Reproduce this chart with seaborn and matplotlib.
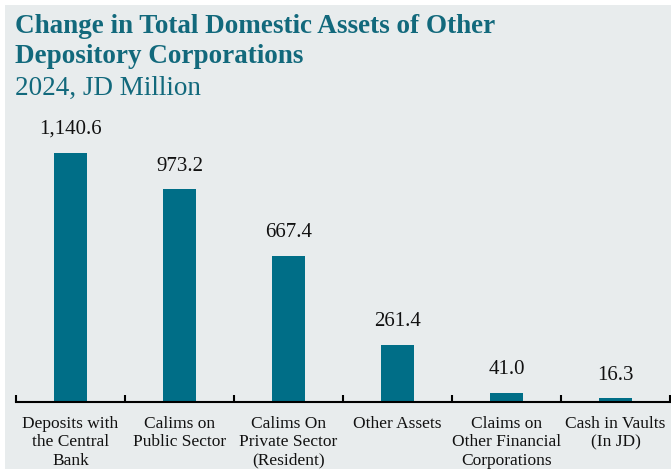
import matplotlib
matplotlib.use("Agg")
import matplotlib.pyplot as plt
import seaborn as sns
import pandas as pd
from matplotlib.patches import Rectangle

categories = [
    "Deposits with\nthe Central\nBank",
    "Calims on\nPublic Sector",
    "Calims On\nPrivate Sector\n(Resident)",
    "Other Assets",
    "Claims on\nOther Financial\nCorporations",
    "Cash in Vaults\n(In JD)",
]
values = [1140.6, 973.2, 667.4, 261.4, 41.0, 16.3]
value_labels = ["1,140.6", "973.2", "667.4", "261.4", "41.0", "16.3"]

title_line1 = "Change in Total Domestic Assets of Other"
title_line2 = "Depository Corporations"
subtitle = "2024, JD Million"

bg = "#E8ECED"
teal = "#006E87"
title_color = "#12697C"

sns.set_theme(style="white")
plt.rcParams["font.family"] = ["Liberation Serif", "DejaVu Serif"]

W, H = 671, 469
fig = plt.figure(figsize=(W / 100, H / 100), dpi=100, facecolor="white")
fig.patches.append(Rectangle((5 / W, 0), 1 - 5 / W, 1 - 5 / H,
                             transform=fig.transFigure, facecolor=bg,
                             edgecolor="none", zorder=-10))

left, right, bottom, top = 16, 670, 402, 110
ax = fig.add_axes([left / W, 1 - bottom / H, (right - left) / W, (bottom - top) / H])
ax.set_facecolor("none")

df = pd.DataFrame({"category": categories, "value": values})
sns.barplot(data=df, x="category", y="value", color=teal, saturation=1,
            width=0.31, linewidth=0, ax=ax)

ax.set_ylim(0, 1337)
ax.set_xlim(-0.5, len(categories) - 0.5)
ax.set_xlabel("")
ax.set_ylabel("")
ax.set_yticks([])

for i, (v, lab) in enumerate(zip(values, value_labels)):
    ax.annotate(lab, (i, v), xytext=(0, 10), textcoords="offset points",
                ha="center", va="bottom", fontsize=15, color="#111111")

# category boundaries get small inward ticks; labels sit at bar centres
ax.set_xticks(range(len(categories)))
ax.set_xticklabels(categories, fontsize=12.5, color="#111111", linespacing=1.2)
ax.tick_params(axis="x", which="major", length=0, pad=10)
ax.set_xticks([i - 0.5 for i in range(len(categories) + 1)], minor=True)
ax.tick_params(axis="x", which="minor", bottom=True, direction="in",
               length=5, width=1.5, color="black")

for s in ["top", "right", "left"]:
    ax.spines[s].set_visible(False)
ax.spines["bottom"].set_color("black")
ax.spines["bottom"].set_linewidth(1.5)

fig.text(15 / W, 1 - 33 / H, title_line1, ha="left", va="baseline",
         fontsize=19.5, fontweight="bold", color=title_color)
fig.text(15 / W, 1 - 63 / H, title_line2, ha="left", va="baseline",
         fontsize=19.5, fontweight="bold", color=title_color)
fig.text(15 / W, 1 - 95 / H, subtitle, ha="left", va="baseline",
         fontsize=19.5, color=title_color)

fig.savefig("out.png", dpi=100, facecolor=fig.get_facecolor())
